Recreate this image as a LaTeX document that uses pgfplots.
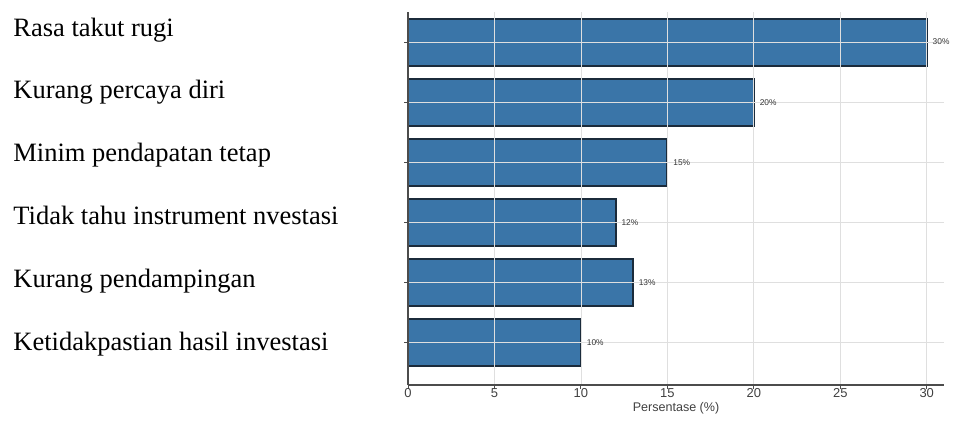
\documentclass[border=0pt]{standalone}
\usepackage{pgfplots}
\pgfplotsset{compat=1.18}
\usepackage{fontspec}
\setmainfont{Liberation Serif}
\newfontfamily\sansf{Liberation Sans}
\definecolor{barblue}{HTML}{3A75A8}
\definecolor{baredge}{HTML}{1B2B3B}
\pgfplotstableread{
y val
6 30
5 20
4 15
3 12
2 13
1 10
}\datatable
\begin{document}
\begin{tikzpicture}[x=1bp,y=1bp]
\path[use as bounding box] (0,0) rectangle (477,210.5);
\begin{axis}[
  at={(204bp,18bp)}, anchor=south west,
  scale only axis, width=268bp, height=186.5bp,
  xmin=0, xmax=31, ymin=0.3, ymax=6.5,
  xbar, bar width=0.78,
  axis x line*=bottom, axis y line*=left,
  axis line style={black!70, line width=0.6pt},
  xtick={0,5,...,30},
  ytick={1,...,6}, yticklabels={},
  tick style={black!70, line width=0.5pt},
  major tick length=2bp,
  tick align=outside,
  grid=major,
  grid style={gray!25, line width=0.4pt},
  axis on top,
  ticklabel style={font=\sansf\fontsize{6.5}{7}\selectfont, text=black!75},
  xticklabel style={inner sep=0.5bp, yshift=1bp},
  xlabel={Persentase (\%)},
  xlabel style={font=\sansf\fontsize{6.3}{7}\selectfont, text=black!75, at={(axis description cs:0.5,0)}, anchor=center, yshift=-11.5bp},
  /pgf/number format/assume math mode=true,
  clip=false,
]
\addplot[fill=barblue, draw=baredge, line width=1bp,
  nodes near coords={\pgfmathprintnumber{\pgfplotspointmeta}\%},
  point meta=x,
  nodes near coords style={font=\sansf\fontsize{4.2}{5}\selectfont, text=black!80, anchor=west, inner sep=0.5bp, xshift=2bp},
] table[x=val, y=y] {\datatable};
\end{axis}
\begin{scope}[every node/.style={anchor=base west, inner sep=0pt, font=\fontsize{13.3}{16}\selectfont}]
\node at (6.5,192.5) {Rasa takut rugi};
\node at (6.5,161.1) {Kurang percaya diri};
\node at (6.5,129.7) {Minim pendapatan tetap};
\node at (6.5,98.3) {Tidak tahu instrument nvestasi};
\node at (6.5,66.9) {Kurang pendampingan};
\node at (6.5,35.5) {Ketidakpastian hasil investasi};
\end{scope}
\end{tikzpicture}
\end{document}
